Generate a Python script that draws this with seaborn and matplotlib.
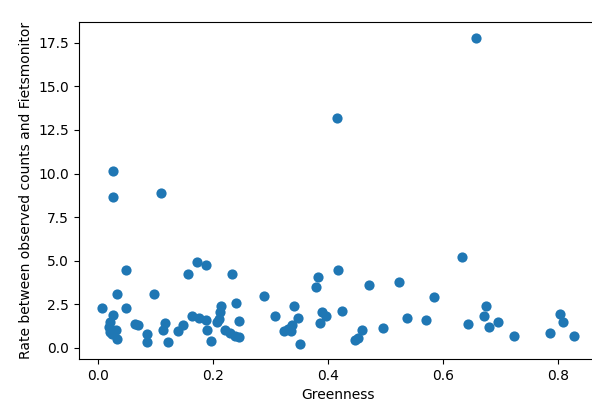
import matplotlib
matplotlib.use('Agg')
from matplotlib import pyplot as plt
import pandas as pd
import seaborn as sns

# greenness of each location and the rate observed / Fietsmonitor
greenness = [
    0.008, 0.034, 0.049, 0.049, 0.027, 0.021, 0.020, 0.031, 0.021, 0.025, 0.034,
    0.064, 0.070, 0.085, 0.085, 0.097, 0.117, 0.114, 0.122, 0.140, 0.149,
    0.026, 0.026, 0.110,
    0.157, 0.173, 0.189, 0.234, 0.164, 0.176, 0.188, 0.190, 0.196,
    0.207, 0.210, 0.213, 0.215, 0.222, 0.230, 0.239, 0.245, 0.240, 0.245,
    0.289, 0.308,
    0.323, 0.330, 0.338, 0.336, 0.341, 0.348, 0.351,
    0.380, 0.383, 0.418, 0.415, 0.390, 0.397, 0.386, 0.425,
    0.472, 0.524, 0.460, 0.453, 0.447, 0.495,
    0.537, 0.571, 0.585, 0.633, 0.644, 0.658, 0.674, 0.671, 0.679, 0.695,
    0.724, 0.786, 0.803, 0.808, 0.827,
]
rate = [
    2.28, 3.07, 4.49, 2.27, 1.87, 1.48, 1.20, 1.05, 0.90, 0.80, 0.53,
    1.36, 1.30, 0.80, 0.36, 3.07, 1.42, 1.05, 0.36, 0.97, 1.29,
    10.15, 8.65, 8.90,
    4.24, 4.95, 4.76, 4.24, 1.83, 1.70, 1.58, 1.05, 0.38,
    1.50, 1.68, 2.06, 2.39, 1.05, 0.85, 0.68, 0.60, 2.56, 1.52,
    3.00, 1.85,
    0.98, 1.10, 1.30, 0.95, 2.39, 1.74, 0.24,
    3.52, 4.07, 4.49, 13.19, 2.06, 1.85, 1.42, 2.12,
    3.63, 3.78, 1.05, 0.59, 0.45, 1.14,
    1.74, 1.58, 2.90, 5.22, 1.39, 17.79, 2.39, 1.83, 1.21, 1.48,
    0.67, 0.86, 1.95, 1.49, 0.67,
]

df = pd.DataFrame({"Greenness": greenness, "Rate": rate})

plt.rcParams['font.family'] = ['DejaVu Sans']
plt.rcParams['font.size'] = 10

fig = plt.figure(figsize=(5.92, 4.12), dpi=100)
# right spine falls just outside the picture, like in the cropped original
ax = fig.add_axes([0.133, 0.1286, 0.876, 0.817])
sns.scatterplot(data=df, x="Greenness", y="Rate", color="#1f77b4", s=54, linewidth=0, ax=ax)
ax.set_xlabel("Greenness")
ax.set_ylabel("Rate between observed counts and Fietsmonitor")
ax.set_yticks([0, 2.5, 5, 7.5, 10, 12.5, 15, 17.5])

plt.savefig("out.png", dpi=100)
